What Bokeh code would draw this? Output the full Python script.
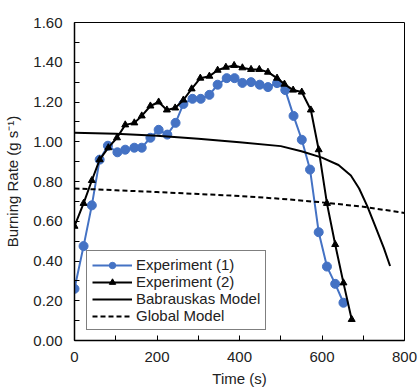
from bokeh.plotting import figure
from bokeh.models import Legend, LegendItem, NumeralTickFormatter, Range1d, FixedTicker
from bokeh.embed import file_html
from bokeh.resources import INLINE

# Experiment (1)
exp1_t = [0, 22, 42, 61, 81, 104, 123, 145, 163, 184, 204, 225, 245, 264, 286, 306, 327,
          347, 369, 388, 407, 428, 449, 469, 491, 511, 531, 551, 571, 592, 612, 632, 652]
exp1_r = [0.26, 0.475, 0.68, 0.91, 0.98, 0.947, 0.96, 0.97, 0.97, 1.02, 1.06, 1.036, 1.095,
          1.19, 1.216, 1.216, 1.236, 1.287, 1.32, 1.32, 1.296, 1.30, 1.287, 1.275, 1.295,
          1.26, 1.13, 1.01, 0.86, 0.545, 0.372, 0.285, 0.19]

# Experiment (2)
exp2_t = [0, 22, 42, 61, 82, 103, 123, 145, 163, 184, 204, 224, 244, 264, 284, 305, 327,
          347, 367, 387, 407, 428, 448, 469, 491, 509, 530, 551, 573, 592, 612, 632, 652, 672]
exp2_r = [0.575, 0.69, 0.805, 0.91, 0.97, 1.02, 1.085, 1.095, 1.13, 1.18, 1.20, 1.16, 1.17,
          1.21, 1.266, 1.32, 1.33, 1.36, 1.375, 1.384, 1.372, 1.364, 1.364, 1.35, 1.32, 1.29,
          1.26, 1.25, 1.16, 0.96, 0.69, 0.483, 0.29, 0.106]

# Babrauskas Model
bab_t = [0, 100, 200, 300, 400, 500, 550, 600, 640, 670, 690, 710, 730, 750, 765]
bab_r = [1.045, 1.04, 1.03, 1.015, 0.998, 0.978, 0.952, 0.92, 0.883, 0.83, 0.765, 0.675,
         0.57, 0.465, 0.375]

# Global Model
glob_t = [0, 100, 200, 300, 400, 500, 600, 700, 800]
glob_r = [0.765, 0.756, 0.747, 0.737, 0.727, 0.713, 0.695, 0.673, 0.642]

x_ticks = [0, 200, 400, 600, 800]
y_ticks = [0.0, 0.2, 0.4, 0.6, 0.8, 1.0, 1.2, 1.4, 1.6]

FONT = "Liberation Sans"
TXT = "#222222"
BLUE = "#4472C4"

p = figure(width=419, height=389, output_backend="svg", toolbar_location=None,
           x_range=Range1d(0, 800), y_range=Range1d(0, 1.6),
           min_border_left=74, min_border_right=15, min_border_top=22, min_border_bottom=49)
p.grid.visible = False
p.outline_line_color = "black"
p.outline_line_width = 1
p.background_fill_color = "white"
p.border_fill_color = "white"

l1 = p.line(exp1_t, exp1_r, line_color=BLUE, line_width=2)
s1 = p.scatter(exp1_t, exp1_r, marker="circle", size=9, fill_color=BLUE, line_color=BLUE)
l2 = p.line(exp2_t, exp2_r, line_color="black", line_width=2)
s2 = p.scatter(exp2_t, exp2_r, marker="triangle", size=7, fill_color="black", line_color="black")
l3 = p.line(bab_t, bab_r, line_color="black", line_width=2)
l4 = p.line(glob_t, glob_r, line_color="black", line_width=2, line_dash="5 3")

for ax in (p.xaxis[0], p.yaxis[0]):
    ax.axis_line_color = "black"
    ax.axis_line_width = 1.5
    ax.major_tick_in = 5
    ax.major_tick_out = 0
    ax.minor_tick_in = 5
    ax.minor_tick_out = 0
    ax.major_tick_line_color = "black"
    ax.minor_tick_line_color = "black"
    ax.major_label_text_font = FONT
    ax.major_label_text_font_size = "15px"
    ax.major_label_text_color = TXT
    ax.axis_label_text_font = FONT
    ax.axis_label_text_font_size = "15px"
    ax.axis_label_text_font_style = "normal"
    ax.axis_label_text_color = TXT

p.xaxis.ticker = FixedTicker(ticks=x_ticks, minor_ticks=[100, 300, 500, 700])
p.yaxis.ticker = FixedTicker(ticks=y_ticks, minor_ticks=[0.1, 0.3, 0.5, 0.7, 0.9, 1.1, 1.3, 1.5])
p.yaxis.formatter = NumeralTickFormatter(format="0.00")
p.xaxis.formatter = NumeralTickFormatter(format="0")
p.yaxis.major_label_standoff = 12
p.xaxis.major_label_standoff = 11
p.xaxis.axis_label = "Time (s)"
p.yaxis.axis_label = "Burning Rate (g s\u207b\u00b9)"
p.xaxis.axis_label_standoff = 5
p.yaxis.axis_label_standoff = 9

legend = Legend(items=[
    LegendItem(label="Experiment (1)", renderers=[l1, s1]),
    LegendItem(label="Experiment (2)", renderers=[l2, s2]),
    LegendItem(label="Babrauskas Model", renderers=[l3]),
    LegendItem(label="Global Model", renderers=[l4]),
], location=(12, 10))
legend.border_line_color = "black"
legend.border_line_width = 1.5
legend.background_fill_alpha = 1
legend.padding = 5
legend.spacing = 0
legend.margin = 0
legend.glyph_width = 40
legend.glyph_height = 16
legend.label_height = 16
legend.label_standoff = 4
legend.label_text_font = FONT
legend.label_text_font_size = "15px"
legend.label_text_color = TXT
p.add_layout(legend, "center")

open("out.html", "w").write(file_html(p, INLINE))
